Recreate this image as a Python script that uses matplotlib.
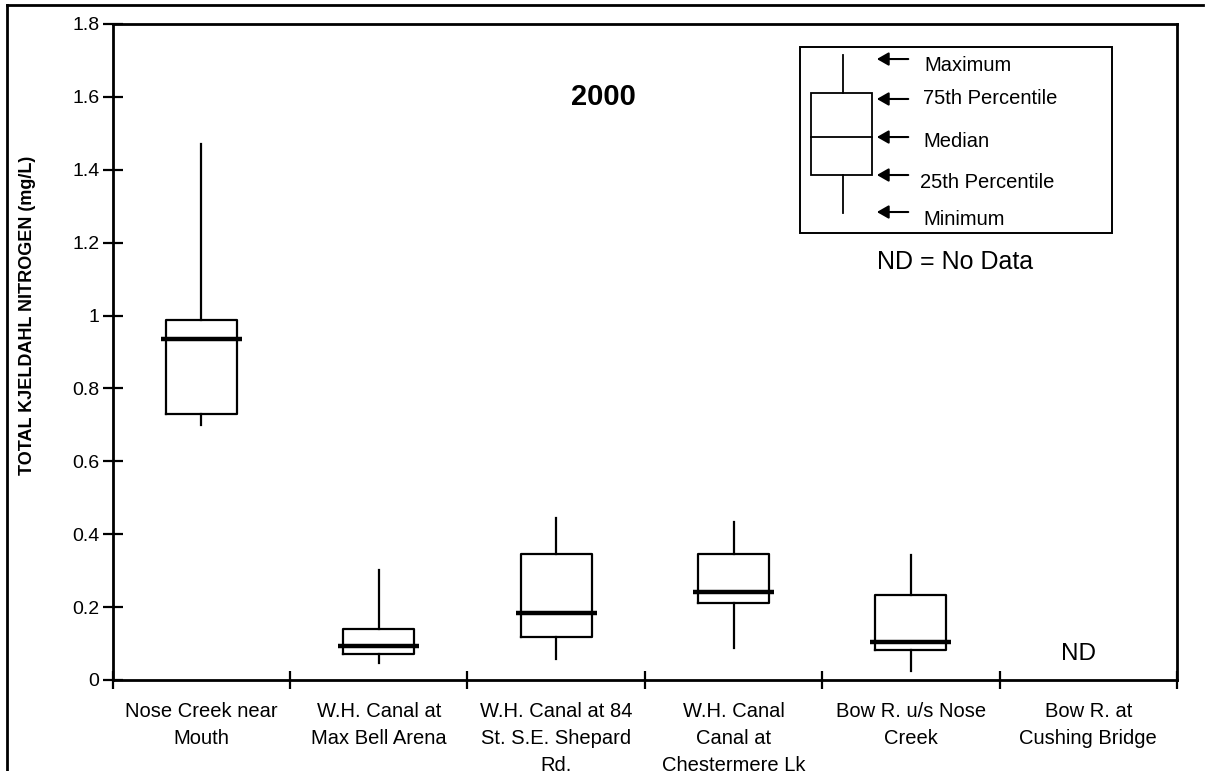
import matplotlib
matplotlib.use("Agg")
import matplotlib.pyplot as plt
from matplotlib.patches import Rectangle
from matplotlib.lines import Line2D

plt.rcParams['font.family'] = ['Liberation Sans', 'DejaVu Sans']

categories = ["Nose Creek near\nMouth", "W.H. Canal at\nMax Bell Arena",
              "W.H. Canal at 84\nSt. S.E. Shepard\nRd.", "W.H. Canal\nCanal at\nChestermere Lk",
              "Bow R. u/s Nose\nCreek", "Bow R. at\nCushing Bridge"]
mins = [0.700, 0.048, 0.058, 0.089, 0.024]
q1s = [0.731, 0.070, 0.117, 0.211, 0.081]
medians = [0.935, 0.093, 0.184, 0.242, 0.105]
q3s = [0.988, 0.140, 0.347, 0.347, 0.232]
maxs = [1.472, 0.301, 0.444, 0.434, 0.344]
nd_label = "ND"
yticks = [0, 0.2, 0.4, 0.6, 0.8, 1, 1.2, 1.4, 1.6, 1.8]
ytick_labels = ["0", "0.2", "0.4", "0.6", "0.8", "1", "1.2", "1.4", "1.6", "1.8"]
key_labels = ["Maximum", "75th Percentile", "Median", "25th Percentile", "Minimum"]

W, H = 1207, 771
fig = plt.figure(figsize=(W / 100, H / 100), dpi=100)
L, R, T, B = 112.7, 1177, 24, 680
ax = fig.add_axes([L / W, 1 - B / H, (R - L) / W, (B - T) / H])

stats = []
for i in range(len(mins)):
    stats.append(dict(whislo=mins[i], q1=q1s[i], med=medians[i], q3=q3s[i], whishi=maxs[i], fliers=[]))
pos = list(range(len(mins)))
ax.bxp(stats, positions=pos, widths=0.40, showcaps=False, showfliers=False,
       boxprops=dict(color='black', linewidth=1.6),
       whiskerprops=dict(color='black', linewidth=1.6),
       medianprops=dict(linewidth=0))
ax.hlines(medians, [p - 0.228 for p in pos], [p + 0.228 for p in pos], colors='black', linewidth=3.2, zorder=5)

ax.text(len(categories) - 1 - 0.055, 0.07, nd_label, ha='center', va='center', fontsize=17.5)

ax.set_xlim(-0.5, len(categories) - 0.5)
ax.set_ylim(0, 1.8)
ax.set_yticks(yticks)
ax.set_yticklabels(ytick_labels, fontsize=14)
ax.set_xticks([i - 0.5 for i in range(len(categories) + 1)])
ax.set_xticklabels([])
ax.set_xticks(range(len(categories)), minor=True)
ax.set_xticklabels(categories, minor=True, fontsize=14.5, linespacing=1.52, va='top')
ax.tick_params(axis='x', which='minor', length=0, pad=16)
ax.tick_params(axis='x', which='major', direction='inout', length=13, width=1.6)
ax.tick_params(axis='y', direction='inout', length=15, width=1.6, pad=2)
for s in ax.spines.values():
    s.set_linewidth(2)
    s.set_color('black')

ax.set_ylabel("TOTAL KJELDAHL NITROGEN (mg/L)", fontsize=13, fontweight='bold')
ax.yaxis.set_label_coords((36 - L) / (R - L), (B - 315) / (B - T))

ax.text((603 - L) / (R - L), (B - 97) / (B - T), "2000", transform=ax.transAxes,
        ha='center', va='center', fontsize=21, fontweight='bold')

# key
tr = ax.transAxes
ax.add_patch(Rectangle((0.6459, 0.6814), 0.9389 - 0.6459, 0.965 - 0.6814, transform=tr,
                       fill=False, edgecolor='black', linewidth=1.4))
ax.add_patch(Rectangle((0.6561, 0.7698), 0.7134 - 0.6561, 0.8948 - 0.7698, transform=tr,
                       fill=False, edgecolor='black', linewidth=1.3))
ax.add_line(Line2D([0.6561, 0.7134], [0.8277, 0.8277], transform=tr, color='black', linewidth=1.3))
ax.add_line(Line2D([0.6862, 0.6862], [0.8948, 0.9527], transform=tr, color='black', linewidth=1.3))
ax.add_line(Line2D([0.6862, 0.6862], [0.7119, 0.7698], transform=tr, color='black', linewidth=1.3))
arrow_y = [0.9466, 0.8857, 0.8277, 0.7698, 0.7134]
text_y = [0.936, 0.8857, 0.8216, 0.7591, 0.7027]
text_x = [0.763, 0.7614, 0.7614, 0.7586, 0.7614]
for ay, tx, ty, lab in zip(arrow_y, text_x, text_y, key_labels):
    ax.annotate("", xy=(0.7180, ay), xytext=(0.7475, ay), xycoords=tr, textcoords=tr,
                arrowprops=dict(arrowstyle='-|>,head_length=0.7,head_width=0.4',
                                color='black', linewidth=1.5, shrinkA=0, shrinkB=0))
    ax.text(tx, ty, lab, transform=tr, ha='left', va='center', fontsize=14.5)
ax.text((955 - L) / (R - L), (B - 262) / (B - T), "ND = No Data", transform=tr,
        ha='center', va='center', fontsize=18)

# outer frame (top and left)
fig.add_artist(Line2D([7 / W, 1203 / W], [1 - 5 / H, 1 - 5 / H], transform=fig.transFigure,
                      color='black', linewidth=2))
fig.add_artist(Line2D([7 / W, 7 / W], [0, 1 - 5 / H], transform=fig.transFigure,
                      color='black', linewidth=2))

fig.savefig("out.png", dpi=100)
